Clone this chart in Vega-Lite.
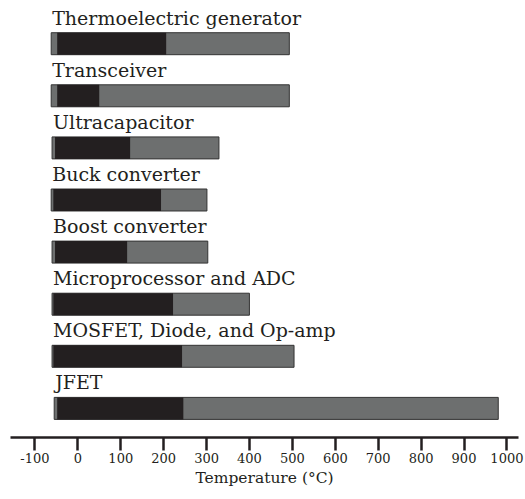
{
  "$schema": "https://vega.github.io/schema/vega-lite/v6.json",
  "width": 508,
  "height": 437,
  "autosize": "none",
  "padding": {"left": 10, "top": 0, "right": 7, "bottom": 62},
  "config": {"view": {"stroke": null}, "font": "DejaVu Serif"},
  "data": {
    "values": [
      {"name": "Thermoelectric generator", "min": -61, "darkStart": -47, "darkEnd": 207, "max": 494},
      {"name": "Transceiver", "min": -61, "darkStart": -47, "darkEnd": 51, "max": 494},
      {"name": "Ultracapacitor", "min": -59, "darkStart": -52, "darkEnd": 123, "max": 330},
      {"name": "Buck converter", "min": -61, "darkStart": -56, "darkEnd": 195, "max": 302},
      {"name": "Boost converter", "min": -59, "darkStart": -52, "darkEnd": 116, "max": 304},
      {"name": "Microprocessor and ADC", "min": -59, "darkStart": -56, "darkEnd": 223, "max": 401},
      {"name": "MOSFET, Diode, and Op-amp", "min": -59, "darkStart": -56, "darkEnd": 244, "max": 505},
      {"name": "JFET", "min": -54, "darkStart": -47, "darkEnd": 247, "max": 981}
    ]
  },
  "encoding": {
    "y": {
      "field": "name",
      "type": "nominal",
      "sort": null,
      "axis": null,
      "scale": {"paddingInner": 0.578, "paddingOuter": 0.483, "align": 0.65}
    }
  },
  "layer": [
    {
      "mark": {"type": "bar", "fill": "#6d6f6f", "stroke": "#333333", "strokeWidth": 1},
      "encoding": {
        "x": {
          "field": "min",
          "type": "quantitative",
          "scale": {"domain": [-157, 1027], "nice": false, "zero": false},
          "axis": {
            "values": [-100, 0, 100, 200, 300, 400, 500, 600, 700, 800, 900, 1000],
            "labelExpr": "'' + datum.value",
            "title": "Temperature (°C)",
            "grid": false,
            "domainColor": "#231f20",
            "domainWidth": 2.5,
            "domainCap": "butt",
            "tickColor": "#231f20",
            "tickWidth": 2.5,
            "tickSize": 13,
            "labelFont": "DejaVu Serif",
            "labelFontSize": 13,
            "labelColor": "#231f20",
            "labelPadding": 2,
            "labelFlush": false,
            "labelOverlap": false,
            "titleFont": "DejaVu Serif",
            "titleFontSize": 15.5,
            "titleFontWeight": "normal",
            "titleColor": "#231f20",
            "titlePadding": 5
          }
        },
        "x2": {"field": "max"}
      }
    },
    {
      "mark": {"type": "bar", "fill": "#231f20"},
      "encoding": {
        "x": {"field": "darkStart", "type": "quantitative"},
        "x2": {"field": "darkEnd"}
      }
    },
    {
      "mark": {"type": "text", "align": "left", "baseline": "alphabetic", "dy": -8, "dx": 1, "fontSize": 19, "font": "DejaVu Serif", "color": "#231f20"},
      "encoding": {
        "x": {"field": "min", "type": "quantitative"},
        "y": {"field": "name", "type": "nominal", "sort": null, "bandPosition": 0},
        "text": {"field": "name"}
      }
    }
  ]
}
